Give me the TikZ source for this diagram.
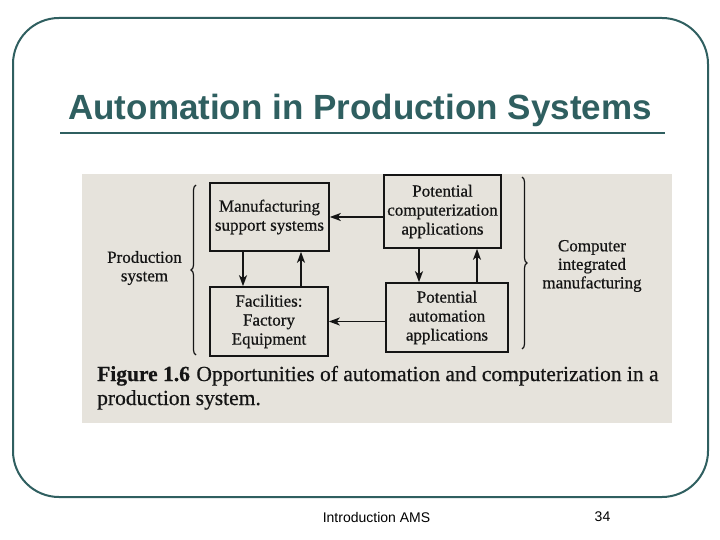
\documentclass[tikz,border=0pt]{standalone}
\usepackage{fontspec}
\setmainfont{Liberation Serif}
\newfontfamily\scanfont[FakeBold=0.6]{Liberation Serif}
\newfontfamily\slidesans{Liberation Sans}
\usetikzlibrary{arrows.meta,decorations.pathreplacing,calc}
\definecolor{slideteal}{HTML}{2F5F60}
\definecolor{scanbg}{HTML}{E6E3DC}
\definecolor{ink}{HTML}{151515}
\tikzset{
  frame/.style={draw=slideteal,line width=2pt,rounded corners=46pt},
  blockbox/.style={draw=ink,line width=1.6pt,align=center,inner sep=0pt,
    font=\scanfont\fontsize{17}{19}\selectfont,text=ink},
  flow/.style={draw=ink,line width=1.7pt,-{Stealth[length=11pt,width=8pt,inset=3pt]}},
  bracelabel/.style={align=center,font=\scanfont\fontsize{17}{18.5}\selectfont,text=ink},
  bracedeco/.style={draw=ink,line width=1.2pt,decorate,decoration={brace,amplitude=5pt}},
  captext/.style={anchor=base west,inner sep=0pt,font=\scanfont\fontsize{21.5}{24}\selectfont,text=ink}
}
\begin{document}
\begin{tikzpicture}[x=1pt,y=-1pt]
\useasboundingbox (0,0) rectangle (720,540);
\fill[white] (0,0) rectangle (720,540);
\draw[frame] (13,18) rectangle (708,497);
\node[anchor=base,inner sep=0pt,text=slideteal,font=\slidesans\bfseries\fontsize{35}{40}\selectfont] (title) at (360,120) {Automation in Production Systems};
\draw[slideteal,line width=2.2pt] (60,133) coordinate (rulel) -- (665,133) coordinate (ruler);
\fill[scanbg] (82,174) rectangle (672,423);
% boxes
\node[blockbox,minimum width=119pt,minimum height=68pt] (msup) at (269.5,217) {Manufacturing\\support systems};
\node[blockbox,minimum width=117pt,minimum height=73pt] (pcomp) at (442.5,211.5) {Potential\\computerization\\applications};
\node[blockbox,minimum width=118pt,minimum height=69pt] (fac) at (269,321.5) {Facilities:\\Factory\\Equipment};
\node[blockbox,minimum width=122pt,minimum height=69pt] (paut) at (447,317.5) {Potential\\automation\\applications};
% arrows
\draw[flow] (pcomp.west |- msup.east) -- (msup.east);
\draw[flow] (paut.west |- fac.east) -- (fac.east);
\draw[flow] ([xshift=-26.5]msup.south) -- ([xshift=-26.5]msup.south |- fac.north);
\draw[flow] ([xshift=31.5]msup.south |- fac.north) -- ([xshift=31.5]msup.south);
\draw[flow] ([xshift=-23.5]pcomp.south) -- ([xshift=-23.5]pcomp.south |- paut.north);
\draw[flow] ([xshift=34.5]pcomp.south |- paut.north) -- ([xshift=34.5]pcomp.south);
% braces
\coordinate (lbb) at (196,355);
\coordinate (lbt) at (196,185);
\draw[bracedeco] (lbb) -- (lbt);
\coordinate (rbt) at (522,177);
\coordinate (rbb) at (522,349);
\draw[bracedeco] (rbt) -- (rbb);
\node[bracelabel] (prodsys) at (144.5,268) {Production\\system};
\node[bracelabel] (cim) at (592,266) {Computer\\integrated\\manufacturing};
% caption
\node[captext] (cap1) at (97,381) {\textbf{Figure 1.6}\hspace{0.3em}Opportunities of automation and computerization in a};
\node[captext] (cap2) at (97,405) {production system.};
% footer
\node[anchor=center,inner sep=0pt,font=\slidesans\fontsize{14}{16}\selectfont] (foot) at (376.5,517) {Introduction AMS};
\node[anchor=center,inner sep=0pt,font=\slidesans\fontsize{14}{16}\selectfont] (pagenum) at (602.5,517) {34};
\end{tikzpicture}
\end{document}
